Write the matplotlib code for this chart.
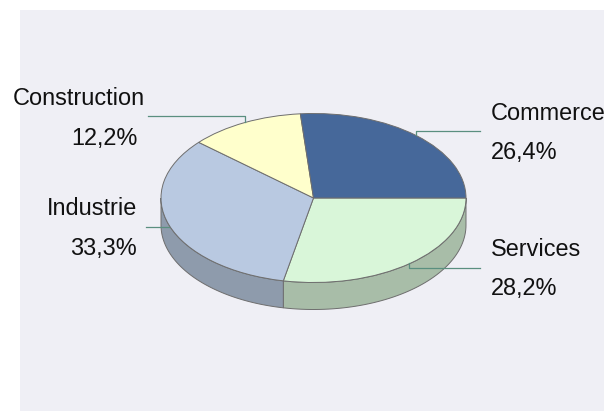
import numpy as np
import matplotlib
matplotlib.use('Agg')
import matplotlib.pyplot as plt
from matplotlib.patches import Rectangle

plt.rcParams['font.family'] = ['Liberation Sans', 'DejaVu Sans']

# clockwise from 3 o'clock
labels = ['Services', 'Industrie', 'Construction', 'Commerce']
values = [28.2, 33.3, 12.2, 26.4]
value_labels = ['28,2%', '33,3%', '12,2%', '26,4%']
top_colors = ['#D9F6D9', '#B9C9E1', '#FFFFCC', '#46689A']
side_colors = ['#A8BDA8', '#8E9BAC', '#C4C49C', '#34507A']

W, H = 605, 412
CX, CY = 313.5, 198
RX, RY = 152.5, 84.5
DEPTH = 27 / RY

fig = plt.figure(figsize=(W / 100, H / 100), dpi=100, facecolor='white')

# overlay in pixel coords for panel, text and leader lines
bg = fig.add_axes([0, 0, 1, 1], zorder=0)
bg.set_xlim(0, W)
bg.set_ylim(H, 0)
bg.axis('off')
bg.add_patch(Rectangle((20, 10), 584, 401, fc='#EFEFF5', ec='none'))

# pie axes: unit circle squashed to the ellipse by the axis limits
ax = fig.add_axes([0, 0, 1, 1], zorder=1)
ax.pie(values, colors=top_colors, startangle=0, counterclock=False, radius=1,
       wedgeprops={'edgecolor': '#6E6E6E', 'linewidth': 0.7, 'zorder': 3})
ax.set_aspect('auto')
ax.set_xlim(-CX / RX, (W - CX) / RX)
ax.set_ylim((CY - H) / RY, CY / RY)
ax.patch.set_visible(False)

# side wall, only the part facing the viewer
edges = -np.cumsum([0] + values) / sum(values) * 360
for a0, a1, c in zip(edges[:-1], edges[1:], side_colors):
    lo, hi = max(a1, -180), min(a0, 0)
    if lo >= hi:
        continue
    t = np.radians(np.linspace(hi, lo, 60))
    x = np.cos(t)
    y = np.sin(t)
    ax.fill(np.r_[x, x[::-1]], np.r_[y, y[::-1] - DEPTH], fc=c,
            ec='#6E6E6E', lw=0.7, zorder=2)

fig_text = dict(fontsize=16.9, color='#111111', va='center')
ov = fig.add_axes([0, 0, 1, 1], zorder=2)
ov.set_xlim(0, W)
ov.set_ylim(H, 0)
ov.axis('off')

ov.text(145, 98, 'Construction', ha='right', **fig_text)
ov.text(138, 138, '12,2%', ha='right', **fig_text)
ov.text(137, 208, 'Industrie', ha='right', **fig_text)
ov.text(137, 248, '33,3%', ha='right', **fig_text)
ov.text(491, 113, 'Commerce', ha='left', **fig_text)
ov.text(491, 152, '26,4%', ha='left', **fig_text)
ov.text(491, 250, 'Services', ha='left', **fig_text)
ov.text(491, 289, '28,2%', ha='left', **fig_text)

line = dict(color='#5A8F7F', lw=0.9)
ov.plot([148, 245, 245], [116, 116, 122], **line)
ov.plot([146, 169], [227, 227], **line)
ov.plot([480, 416, 416], [131, 131, 135], **line)
ov.plot([480, 409, 409], [268, 268, 263], **line)

fig.savefig('out.png', dpi=100)
